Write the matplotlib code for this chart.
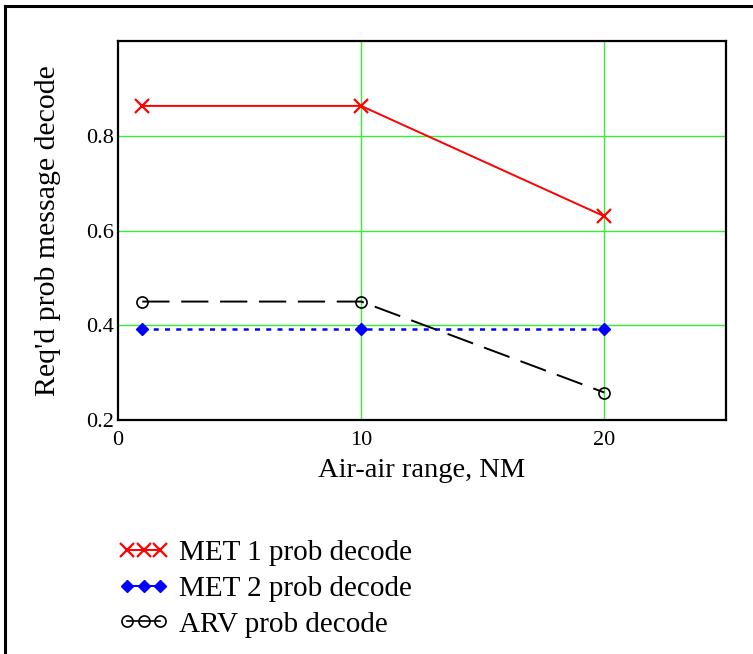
import matplotlib
matplotlib.use("Agg")
import matplotlib.pyplot as plt
from matplotlib.lines import Line2D

# ── Data ──────────────────────────────────────────────────────────────────────
range_nm = [1, 10, 20]
met1_prob = [0.863, 0.863, 0.630]
met2_prob = [0.393, 0.393, 0.393]
arv_prob = [0.450, 0.450, 0.258]

x_ticks = [0, 10, 20]
y_ticks = [0.2, 0.4, 0.6, 0.8]

plt.rcParams["font.family"] = ["Liberation Serif", "DejaVu Serif"]

# ── Figure ────────────────────────────────────────────────────────────────────
fig = plt.figure(figsize=(7.53, 6.54), dpi=100)
ax = fig.add_axes([0.1567, 0.3578, 0.8073, 0.5795])

grid_col = "#33ee33"
for xv in [10, 20]:
    ax.axvline(xv, color=grid_col, lw=1.0, zorder=1)
for yv in [0.4, 0.6, 0.8]:
    ax.axhline(yv, color=grid_col, lw=1.0, zorder=1)

ax.plot(range_nm, met1_prob, color="red", lw=1.4, marker="x",
        markersize=10, markeredgewidth=1.6, zorder=3)
ax.plot(range_nm, met2_prob, color="blue", lw=1.8, ls=(0, (2, 2.5)),
        marker="D", markersize=6, zorder=3)
ax.plot(range_nm, arv_prob, color="black", lw=1.4, ls=(0, (14, 6)),
        marker="o", markersize=8, markerfacecolor="none",
        markeredgewidth=1.2, zorder=3)

# ── Axes ──────────────────────────────────────────────────────────────────────
ax.set_xlim(0, 25)
ax.set_ylim(0.2, 1.0)
ax.set_xticks(x_ticks)
ax.set_xticklabels([str(t) for t in x_ticks])
ax.set_yticks(y_ticks)
ax.set_yticklabels([f"{t:.1f}" for t in y_ticks])
ax.tick_params(axis="both", length=0, labelsize=16)
ax.tick_params(axis="x", pad=8)
ax.tick_params(axis="y", pad=3)
for spine in ax.spines.values():
    spine.set_linewidth(1.6)
    spine.set_color("black")

ax.set_xlabel("Air-air range, NM", fontsize=20.5, labelpad=6)
ax.set_ylabel("Req'd prob message decode", fontsize=21.5, labelpad=18)

# ── Legend ────────────────────────────────────────────────────────────────────
handles = [
    Line2D([], [], color="red", lw=1.4, marker="x", markersize=10,
           markeredgewidth=1.6),
    Line2D([], [], color="blue", lw=1.4, marker="D", markersize=6),
    Line2D([], [], color="black", lw=1.2, marker="o", markersize=8,
           markerfacecolor="none", markeredgewidth=1.2),
]
labels = ["MET 1 prob decode", "MET 2 prob decode", "ARV prob decode"]
fig.legend(handles, labels, loc="upper left",
           bbox_to_anchor=(0.122, 0.215),
           bbox_transform=fig.transFigure,
           frameon=False, numpoints=3, handlelength=1.75,
           handletextpad=0.35, labelspacing=0.32, fontsize=21)

# outer frame (top and left edges only visible)
fig.add_artist(Line2D([0.007, 1.0], [0.991, 0.991], color="black", lw=2.2,
                      transform=fig.transFigure))
fig.add_artist(Line2D([0.007, 0.007], [0.0, 0.991], color="black", lw=2.2,
                      transform=fig.transFigure))

fig.savefig("out.png", dpi=100, facecolor="white")
